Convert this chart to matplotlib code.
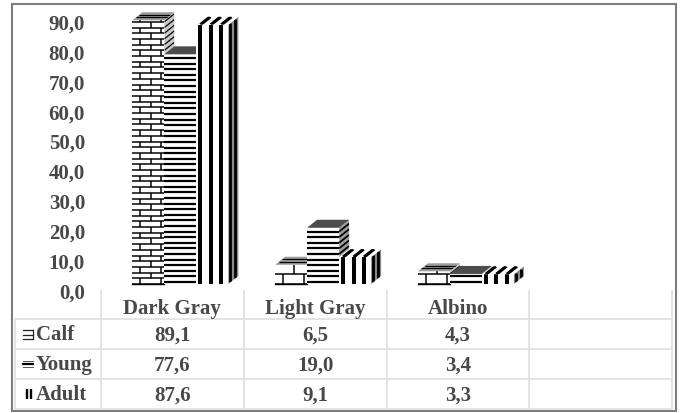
import matplotlib
matplotlib.use("Agg")
import matplotlib.pyplot as plt
from matplotlib.collections import LineCollection
from matplotlib.patches import Polygon, Rectangle

plt.rcParams["font.family"] = ["Liberation Serif", "DejaVu Serif"]

categories = ["Dark Gray", "Light Gray", "Albino", ""]
series_names = ["Calf", "Young", "Adult"]
calf = [89.1, 6.5, 4.3]
young = [77.6, 19.0, 3.4]
adult = [87.6, 9.1, 3.3]
value_ticks = [0, 10, 20, 30, 40, 50, 60, 70, 80, 90]
value_labels = ["0,0", "10,0", "20,0", "30,0", "40,0", "50,0", "60,0", "70,0", "80,0", "90,0"]

W, H = 682, 414
TEXT = "#484848"
GRID = "#e2e2e2"
FONT = 15

# layout in pixels
PLOT_L, PLOT_R = 101, 672
BASE_Y, SCALE_Y = 285, 2.96
CAT_PX = (PLOT_R - PLOT_L) / 4
BAR_W, DEPTH_X, DEPTH_Y = 32, 10, 8
GROUP_SHIFT = 8
BRICK_ROW = [5.7, 10, 10]
STROKE = {"brick": 1.5, "hbar": 2.2, "vbar": 4.0}
FILLS = {"brick": ("white", "#c8c8c8", "#9a9a9a"),
         "hbar": ("white", "#9c9c9c", "#4c4c4c"),
         "vbar": ("white", "#8a8a8a", "white")}


def px_box(l, b, r, t):
    return [l / W, 1 - b / H, (r - l) / W, (b - t) / H]


fig = plt.figure(figsize=(W / 100, H / 100), dpi=100, facecolor="white")

# table, frame and key glyphs live on a pixel-scaled layer
page = fig.add_axes([0, 0, 1, 1])
page.set_xlim(0, W)
page.set_ylim(H, 0)
page.axis("off")

# separate value axis carries the tick labels
val_ax = fig.add_axes(px_box(PLOT_L, 291, PLOT_R, 22))
val_ax.set_ylim(0, 90)
val_ax.set_xlim(0, 1)
val_ax.patch.set_alpha(0)
for s in val_ax.spines.values():
    s.set_visible(False)
val_ax.set_xticks([])
val_ax.set_yticks(value_ticks)
val_ax.set_yticklabels(value_labels, fontsize=FONT, fontweight="bold", color=TEXT)
val_ax.tick_params(axis="y", length=0, pad=11.5)

# bars are drawn in category / value coordinates
ax = fig.add_axes(px_box(PLOT_L, BASE_Y, PLOT_R, 0))
ax.set_xlim(-0.5, 3.5)
ax.set_ylim(0, BASE_Y / SCALE_Y)
ax.axis("off")
ax.patch.set_alpha(0)


def front_pattern(kind, w, h, row=5.7):
    """Line segments of a fill pattern in (u, v) pixels across a w x h face."""
    segs = []
    if kind == "hbar":
        v = 2.0
        while v < h:
            segs.append([(0, v), (w, v)])
            v += 5.6
    elif kind == "vbar":
        u = 4.0
        while u < w:
            segs.append([(u, 0), (u, h)])
            u += 10.5
    else:
        v, i = 0.0, 0
        while v < h + row:
            segs.append([(0, v), (w, v)])
            ticks = [19] if i % 2 else [8, 29]
            for t in ticks:
                segs.append([(t, v), (t, v + row)])
            v += row
            i += 1
    return segs


def add_face(corners, segs, fill, lw):
    pts = [(x / CAT_PX, y / SCALE_Y) for x, y in corners]
    poly = Polygon(pts, closed=True, facecolor=fill, edgecolor="none", zorder=2)
    ax.add_patch(poly)
    conv = [[(x / CAT_PX, y / SCALE_Y) for x, y in s] for s in segs]
    lc = LineCollection(conv, colors="black", linewidths=lw * 0.72, zorder=2)
    ax.add_collection(lc)
    lc.set_clip_path(poly)


def draw_bar(cat, slot, value, kind):
    left = (cat * CAT_PX) + GROUP_SHIFT + (slot - 1.5) * BAR_W
    h = value * SCALE_Y
    row = BRICK_ROW[cat]
    lw = STROKE[kind]
    front_fill, side_fill, top_fill = FILLS[kind]
    segs = front_pattern(kind, BAR_W, h, row)

    # front
    front = [(left, 0), (left + BAR_W, 0), (left + BAR_W, h), (left, h)]
    add_face(front, [[(left + a, b) for a, b in s] for s in segs], front_fill, lw)

    # right side: horizontal courses climb with the depth
    right = left + BAR_W
    side = [(right, 0), (right + DEPTH_X, DEPTH_Y), (right + DEPTH_X, h + DEPTH_Y), (right, h)]
    side_segs = []
    if kind == "vbar":
        for t in (0.2, 0.7):
            side_segs.append([(right + t * DEPTH_X, t * DEPTH_Y), (right + t * DEPTH_X, h + t * DEPTH_Y)])
    else:
        for s in segs:
            if s[0][1] == s[1][1]:
                v = s[0][1]
                side_segs.append([(right, v), (right + DEPTH_X, v + DEPTH_Y)])
    add_face(side, side_segs, side_fill, lw * (0.7 if kind == "vbar" else 0.8))

    # top: depth lines follow the slant for vertical stripes
    top = [(left, h), (right, h), (right + DEPTH_X, h + DEPTH_Y), (left + DEPTH_X, h + DEPTH_Y)]
    top_segs = []
    if kind == "vbar":
        for s in segs:
            u = s[0][0]
            top_segs.append([(left + u, h), (left + u + DEPTH_X, h + DEPTH_Y)])
    elif kind == "brick":
        for t in (0.35, 0.7):
            top_segs.append([(left + t * DEPTH_X, h + t * DEPTH_Y), (right + t * DEPTH_X, h + t * DEPTH_Y)])
    add_face(top, top_segs, top_fill, lw * 0.8)

    # stroke along the base keeps short bars grounded
    if kind == "brick":
        ax.plot([left / CAT_PX, right / CAT_PX], [0, 0], color="black", lw=1.0, zorder=2, clip_on=False)


for c in range(3):
    for slot, (vals, kind) in enumerate(zip((calf, young, adult), ("brick", "hbar", "vbar"))):
        draw_bar(c, slot, vals[c], kind)

# table grid
rows_y = [320, 350, 380, 410]
cols_x = [PLOT_L + i * CAT_PX for i in range(5)]
for y in rows_y:
    page.plot([15, PLOT_R], [y, y], color=GRID, lw=1.3, solid_capstyle="butt")
page.plot([15, 15], [320, 410], color=GRID, lw=1.3)
for x in cols_x:
    page.plot([x, x], [291, 410], color=GRID, lw=1.3, solid_capstyle="butt")

# table text
for i, name in enumerate(categories):
    if name:
        page.text(cols_x[i] + CAT_PX / 2, 309, name, ha="center", va="center",
                  fontsize=FONT, fontweight="bold", color=TEXT)
for r, (name, vals) in enumerate(zip(series_names, (calf, young, adult))):
    yc = 335 + r * 30
    page.text(36, yc, name, ha="left", va="center", fontsize=FONT,
              fontweight="bold", color=TEXT)
    for c, v in enumerate(vals):
        page.text(cols_x[c] + CAT_PX / 2, yc + 0.5, f"{v:.1f}".replace(".", ","),
                  ha="center", va="center", fontsize=FONT, fontweight="bold", color=TEXT)

# key glyphs
page.plot([23, 33], [331, 331], color="#222222", lw=0.9)
page.plot([23, 33], [336, 336], color="#222222", lw=0.9)
page.plot([23, 33], [340, 340], color="#222222", lw=0.9)
page.plot([33, 33], [331, 340], color="#222222", lw=0.9)
page.plot([23, 33], [364.5, 364.5], color="black", lw=1.6)
page.plot([23, 33], [361.5, 361.5], color="#555555", lw=0.7)
page.plot([23, 33], [367.5, 367.5], color="#555555", lw=0.7)
for x in (26.5, 31):
    page.plot([x, x], [390, 400], color="black", lw=1.7, solid_capstyle="butt")

# outer frame
page.add_patch(Rectangle((12, 5), 664, 407, fill=False, edgecolor="#7d7d7d", lw=1.5))

fig.savefig("out.png", dpi=100, facecolor="white")
